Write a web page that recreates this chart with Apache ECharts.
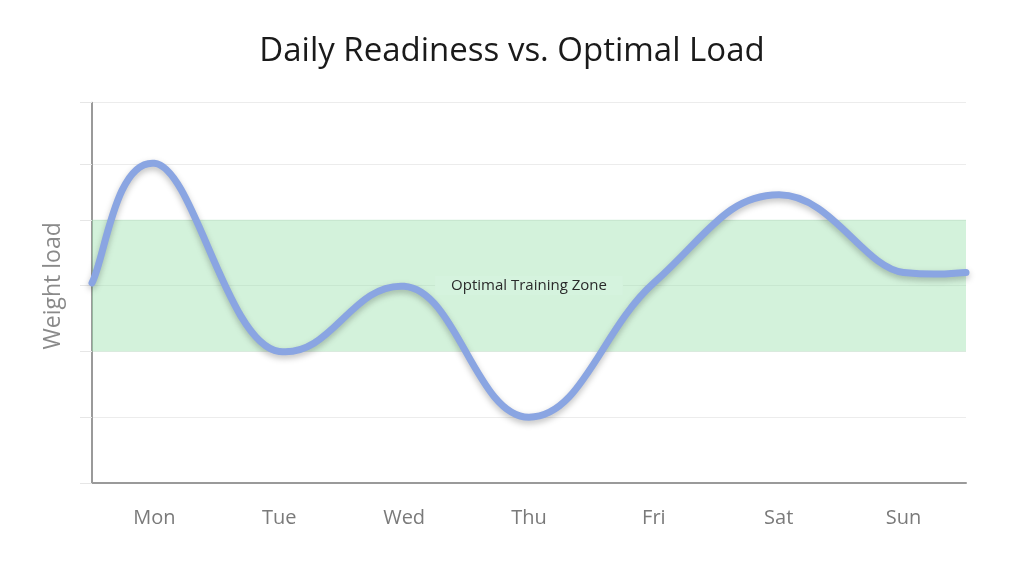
<!DOCTYPE html>
<html><head><meta charset="utf-8">
<script src="https://cdn.jsdelivr.net/npm/echarts@6/dist/echarts.min.js"></script>
<style>html,body{margin:0;padding:0;background:#fff}#c{width:1024px;height:572px}</style>
</head><body><div id="c"></div>
<script>
const days = ['Mon','Tue','Wed','Thu','Fri','Sat','Sun'];
const dayValues = [4.86, 2.0, 2.99, 1.0, 3.04, 4.38, 3.2];
const startValue = 3.04;
const endValue = 3.2;
const yTicks = [0, 1, 2, 3, 4, 4.85, 5.78];
const zoneLow = 2, zoneHigh = 4;
const zoneLabel = 'Optimal Training Zone';

const lineData = [[0, startValue]];
days.forEach((d, i) => lineData.push([i + 0.5, dayValues[i]]));
lineData.push([days.length, endValue]);

// smooth cubic spline path through pixel points (tangent from neighbours,
// flattened at local extremes)
function splinePath(pts) {
  const kx = 0.21, extremeFactor = 0.25;
  const n = pts.length;
  const slopes = pts.map((p, i) => {
    const a = pts[Math.max(i - 1, 0)], b = pts[Math.min(i + 1, n - 1)];
    let m = (b[1] - a[1]) / (b[0] - a[0]);
    if (i > 0 && i < n - 1 && (p[1] - a[1]) * (p[1] - b[1]) >= 0) m *= extremeFactor;
    return { m: m, w: b[0] - a[0] };
  });
  let d = 'M' + pts[0][0] + ' ' + pts[0][1];
  for (let i = 0; i < n - 1; i++) {
    const p1 = pts[i], p2 = pts[i + 1];
    const a1 = kx * slopes[i].w, a2 = kx * slopes[i + 1].w;
    const c1x = p1[0] + a1, c1y = p1[1] + slopes[i].m * a1;
    const c2x = p2[0] - a2, c2y = p2[1] - slopes[i + 1].m * a2;
    d += ' C' + c1x + ' ' + c1y + ' ' + c2x + ' ' + c2y + ' ' + p2[0] + ' ' + p2[1];
  }
  return d;
}

const font = '"Open Sans", Lato, sans-serif';
const chart = echarts.init(document.getElementById('c'));
chart.setOption({
  animation: false,
  title: { text: 'Daily Readiness vs. Optimal Load', left: 'center', top: 30,
    textStyle: { fontFamily: font, fontWeight: 'normal', fontSize: 33, color: '#1a1a1a' } },
  grid: { left: 92, right: 58, top: 102.7, bottom: 89 },
  xAxis: [
    { type: 'category', data: days, boundaryGap: true,
      axisLine: { lineStyle: { color: '#9a9a9a', width: 2 } },
      axisTick: { show: false },
      axisLabel: { margin: 25, fontFamily: font, fontSize: 20, color: '#7a7a7a' } },
    { type: 'value', min: 0, max: days.length, show: false }
  ],
  yAxis: {
    type: 'value', min: 0, max: yTicks[yTicks.length - 1],
    name: 'Weight load', nameLocation: 'middle', nameGap: 27,
    nameTextStyle: { fontFamily: font, fontSize: 23, color: '#8a8a8a', padding: [0, 0, 0, 14] },
    axisLine: { show: true, lineStyle: { color: '#9a9a9a', width: 2 } },
    axisTick: { show: true, length: 12, customValues: yTicks, lineStyle: { color: '#e6e6e6' } },
    axisLabel: { show: false, customValues: yTicks },
    splitLine: { show: true, lineStyle: { color: '#ececec', width: 1 } }
  },
  series: [
    { type: 'line', xAxisIndex: 1, data: [], z: 1,
      markArea: { silent: true,
        itemStyle: { color: 'rgba(150,225,170,0.42)' },
        label: { show: true, position: 'inside', fontFamily: font, fontSize: 15, color: '#2a2a2a',
          backgroundColor: 'rgb(213,243,222)', padding: [2, 16] },
        data: [[{ name: zoneLabel, yAxis: zoneLow }, { yAxis: zoneHigh }]] } },
    { type: 'custom', name: 'Readiness', coordinateSystem: 'cartesian2d', xAxisIndex: 1,
      data: lineData, z: 3, clip: false, silent: true,
      renderItem: function (params, api) {
        if (params.dataIndex !== 0) return null;
        const pts = lineData.map(p => api.coord(p));
        return { type: 'path', shape: { pathData: splinePath(pts) },
          style: { fill: null, stroke: '#8aa5e2', lineWidth: 7, lineCap: 'round', lineJoin: 'round',
            shadowColor: 'rgba(0,0,0,0.25)', shadowBlur: 6, shadowOffsetY: 3 } };
      } }
  ]
});
</script></body></html>
